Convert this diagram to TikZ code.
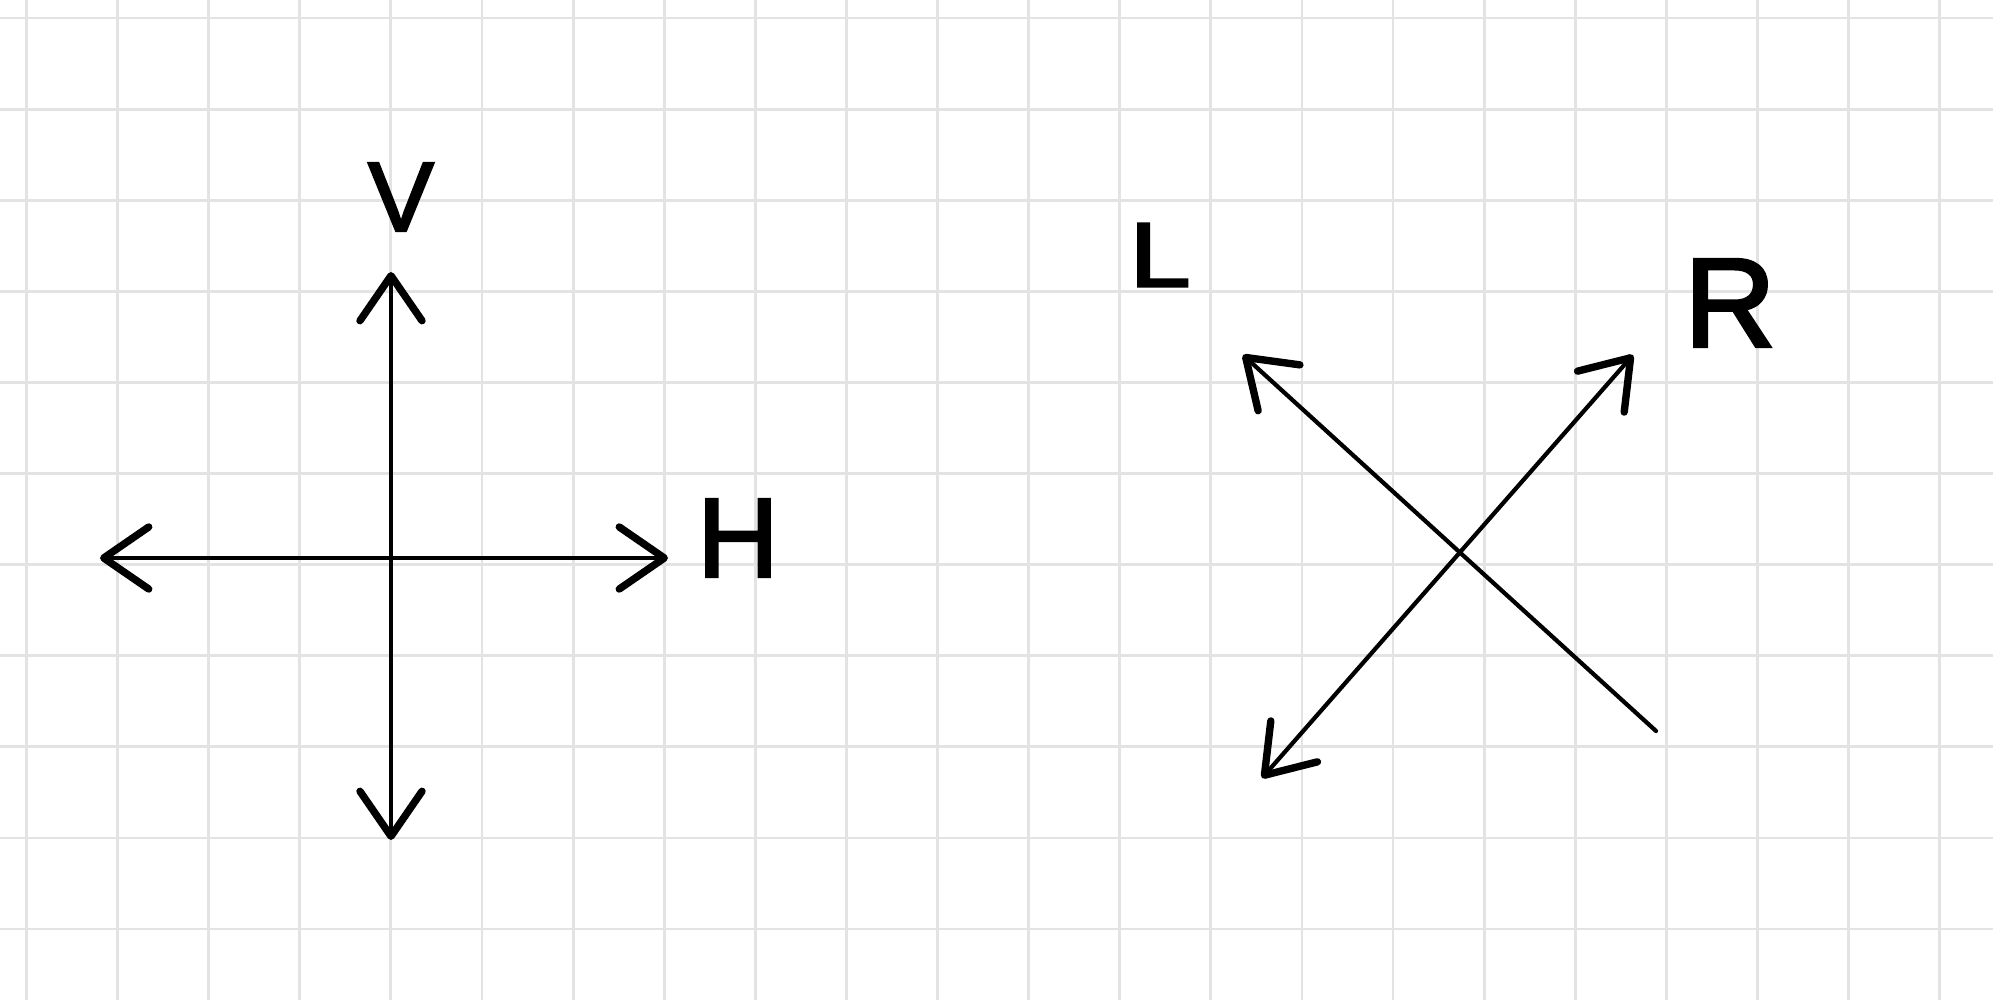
\documentclass[tikz,border=0pt]{standalone}
\usepackage{fontspec}
\setmainfont{Liberation Sans}
\newfontfamily\handfont[FakeBold=2.5]{Liberation Sans}
\usetikzlibrary{arrows.meta}
\tikzset{
  gridline/.style={draw=black!11, line width=0.8pt},
  axis/.style={draw=black, line width=1.2pt, line cap=round},
  hand/.tip={Straight Barb[length=0.45cm,width=0.62cm,line width=2.1pt,round]},
  letter/.style={inner sep=0pt, text=black},
}
\begin{document}
\begin{tikzpicture}[x=0.01cm,y=-0.01cm]
\useasboundingbox (0,0) rectangle (1993,1000);
\fill[white] (0,0) rectangle (1993,1000);
\foreach \k in {0,...,21} \draw[gridline] ({26.5+91.1*\k},0) -- ({26.5+91.1*\k},1000);
\foreach \k in {0,...,10} \draw[gridline] (0,{18+91.1*\k}) -- (1993,{18+91.1*\k});

% axis end points
\coordinate (hL) at (100,558);
\coordinate (hR) at (668,558);
\coordinate (vT) at (391,272);
\coordinate (vB) at (391,840);
\coordinate (d1a) at (1243,355);
\coordinate (d1b) at (1656,731);
\coordinate (d2a) at (1262,778);
\coordinate (d2b) at (1633,355);

% labels
\node[letter, font=\handfont\fontsize{28}{28}\selectfont] (V) at (401,197) {V};
\node[letter, font=\handfont\fontsize{32}{32}\selectfont] (H) at (738,538) {H};
\node[letter, font=\handfont\fontsize{26}{26}\selectfont, xscale=1.2] (L) at (1160,255) {L};
\node[letter, font=\handfont\fontsize{36}{36}\selectfont] (R) at (1730,303) {R};

% connectors
\draw[axis, hand-hand] (hL) -- (hR);
\draw[axis, hand-hand] (vB) -- (vT);
\draw[axis, hand-] (d1a) -- (d1b);
\draw[axis, hand-hand] (d2a) -- (d2b);
\end{tikzpicture}
\end{document}
